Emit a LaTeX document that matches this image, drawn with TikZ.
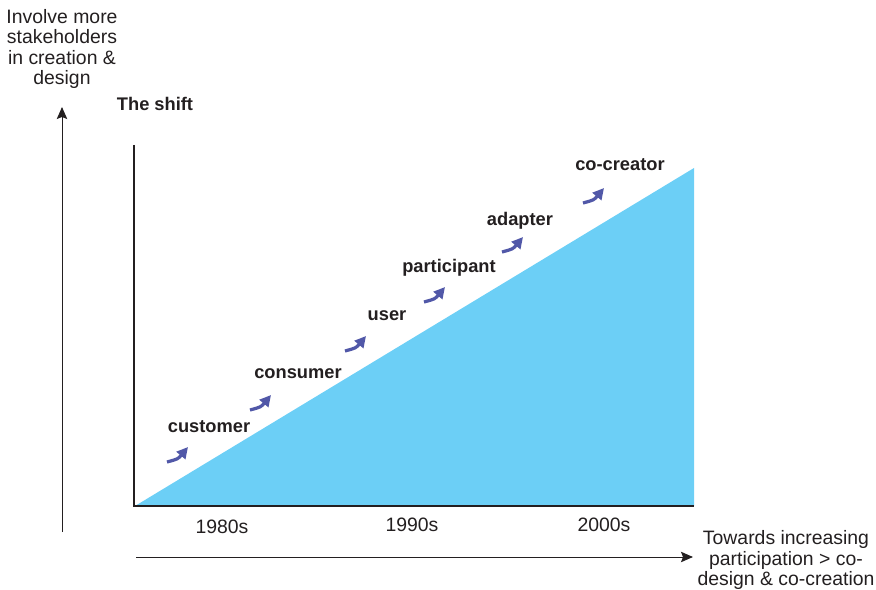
\documentclass[tikz,border=0pt]{standalone}
\usepackage{fontspec}
\setmainfont{Liberation Sans}
\usetikzlibrary{arrows.meta}
\definecolor{areablue}{HTML}{6CCFF6}
\definecolor{steparr}{HTML}{5158A8}
\definecolor{txtgray}{HTML}{231F20}

\begin{document}
\begin{tikzpicture}[
 x=0.025cm,y=-0.025cm,
 font=\fontsize{13.8}{14.4}\selectfont,
 txtgray,
 ax/.style={-{Stealth[length=3mm,width=2.6mm,inset=0.5mm]},line width=0.7pt,txtgray},
 frame/.style={line width=0.8pt,txtgray},
 role/.style={font=\fontsize{13}{14.5}\selectfont\bfseries,inner sep=1pt},
 lbl/.style={align=center,inner sep=1pt},
 shiftarr/.style={-{Triangle[length=2.8mm,width=2.8mm]},line width=2.3pt,steparr}]
\useasboundingbox (0,0) rectangle (876,590);
% filled area
\fill[areablue] (135,506) -- (694,168) -- (694,506) -- cycle;
\draw[frame] (134,145) -- (134,506) -- (694,506);
% axes
\coordinate (vb) at (62,532);
\coordinate (vt) at (62,107);
\coordinate (hl) at (136,557);
\coordinate (hr) at (693,557);
\draw[ax] (vb) -- (vt);
\draw[ax] (hl) -- (hr);
\node[lbl] (yttl) at (62,49) {Involve more\\stakeholders\\in creation \&\\design};
\node[lbl] (xttl) at (786,560) {Towards increasing\\participation > co-\\design \& co-creation};
\node[role] (shift) at (155,104) {The shift};
% roles
\node[role] (cust) at (209,427) {customer};
\node[role] (cons) at (298,374) {consumer};
\node[role] (user) at (387,316) {user};
\node[role] (part) at (449,268) {participant};
\node[role] (adap) at (520,221) {adapter};
\node[role] (cocr) at (620,165) {co-creator};
% step arrows
\foreach \sx/\sy in {167/462,250/410,345/351,424/302,502/252,583/203}
 \draw[shiftarr] (\sx,\sy) .. controls +(11,-3) .. +(21,-15);
% decades
\node (d80) at (222,527) {1980s};
\node (d90) at (412,525) {1990s};
\node (d00) at (604,525) {2000s};
\end{tikzpicture}
\end{document}
